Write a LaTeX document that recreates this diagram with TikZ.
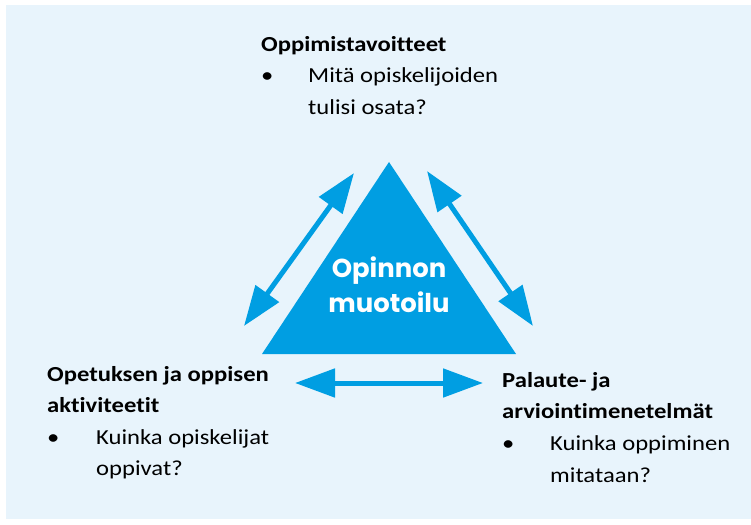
\documentclass[tikz,border=0pt]{standalone}
\usepackage{fontspec}
\setmainfont{Carlito}[FakeStretch=1.15,Ligatures={NoCommon,NoContextual}]
\newfontfamily\titlefont{Poppins}
\usetikzlibrary{arrows.meta}
\definecolor{bgblue}{RGB}{232,244,252}
\definecolor{mainblue}{RGB}{0,158,226}
\tikzset{
  txt/.style={anchor=base west,inner sep=0pt,font=\fontsize{21.5}{31}\selectfont,text=black},
  head/.style={txt,font=\fontsize{21.5}{31}\selectfont\bfseries},
  dblarrow/.style={draw=mainblue,line width=5bp,{Triangle[length=40bp,width=28bp]}-{Triangle[length=40bp,width=28bp]}},
  tri/.style={fill=mainblue},
  title/.style={anchor=base,inner sep=0pt,text=white,font=\titlefont\fontsize{26}{34}\selectfont\bfseries}
}
\begin{document}
\begin{tikzpicture}[x=1bp,y=-1bp]
\useasboundingbox (0,0) rectangle (751,525);
\fill[bgblue] (6,5) rectangle (751,519);
% triangle
\coordinate (apex) at (389,162);
\coordinate (bl) at (262,354);
\coordinate (br) at (516,354);
\fill[tri] (apex) -- (bl) -- (br) -- cycle;
\node[title] (t1) at (389,278) {Opinnon};
\node[title] (t2) at (389,312) {muotoilu};
% arrows
\coordinate (la) at (354,173);
\coordinate (lb) at (244,326);
\coordinate (ra) at (427,171);
\coordinate (rb) at (533,326);
\coordinate (ba) at (295,383);
\coordinate (bb) at (483,383);
\draw[dblarrow] (la) -- (lb);
\draw[dblarrow] (ra) -- (rb);
\draw[dblarrow] (ba) -- (bb);
% top block
\node[head] (g1) at (261,52) {Oppimistavoitteet};
\node[txt] (g2) at (261,83) {\textbullet};
\node[txt] (g3) at (308,83) {Mitä opiskelijoiden};
\node[txt] (g4) at (308,115) {tulisi osata?};
% left block
\node[head] (a1) at (47,381) {Opetuksen ja oppisen};
\node[head] (a2) at (47,412) {aktiviteetit};
\node[txt] (a3) at (47,444) {\textbullet};
\node[txt] (a4) at (96,444) {Kuinka opiskelijat};
\node[txt] (a5) at (96,475) {oppivat?};
% right block
\node[head] (p1) at (502,387) {Palaute- ja};
\node[head] (p2) at (502,418) {arviointimenetelmät};
\node[txt] (p3) at (502,450) {\textbullet};
\node[txt] (p4) at (550,450) {Kuinka oppiminen};
\node[txt] (p5) at (550,482) {mitataan?};
\end{tikzpicture}
\end{document}
